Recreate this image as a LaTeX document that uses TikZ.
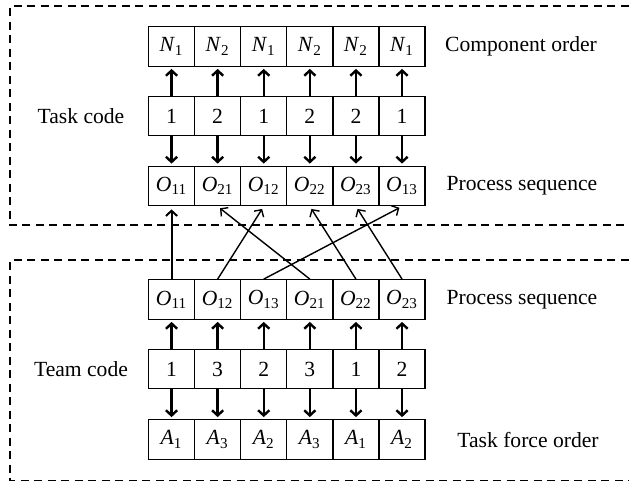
\documentclass[tikz,border=0pt]{standalone}
\usepackage{fontspec}
\setmainfont{Liberation Serif}
\usepackage{tikz}
\usetikzlibrary{arrows.meta}
\newcommand{\sym}[2]{\textit{#1}\textsubscript{#2}}
\def\cellw{46.1}

\begin{document}
\begin{tikzpicture}[x=0.5pt,y=-0.5pt,>={Straight Barb[length=2.6pt,width=5.6pt]},font=\fontsize{10.8}{13}\selectfont]
    \tikzstyle{cell}=[draw,line width=0.65pt,minimum width=23.05pt,minimum height=19.75pt,inner sep=0pt]
    \tikzstyle{link}=[->,shorten >=1pt,line width=1.2pt]
    \tikzstyle{swap}=[->,shorten >=1.5pt,line width=0.7pt]
    \tikzstyle{frame}=[dash pattern=on 4pt off 2.75pt,line width=0.6pt]
    \tikzstyle{annot}=[anchor=center]

    \useasboundingbox (0,0) rectangle (629,483);

    % Upper block: component order, task code, process sequence
    \foreach \i / \lab in {1/{\sym{N}{1}},2/{\sym{N}{2}},3/{\sym{N}{1}},4/{\sym{N}{2}},5/{\sym{N}{2}},6/{\sym{N}{1}}}
        \node[cell] (N-\i) at (125.45+\cellw*\i,46.5) {\lab};
    \foreach \i / \lab in {1/1,2/2,3/1,4/2,5/2,6/1}
        \node[cell] (T-\i) at (125.45+\cellw*\i,116) {\lab};
    \foreach \i / \lab in {1/{\sym{O}{11}},2/{\sym{O}{21}},3/{\sym{O}{12}},4/{\sym{O}{22}},5/{\sym{O}{23}},6/{\sym{O}{13}}}
        \node[cell] (P-\i) at (125.45+\cellw*\i,186) {\lab};

    % Lower block: process sequence, team code, task force order
    \foreach \i / \lab in {1/{\sym{O}{11}},2/{\sym{O}{12}},3/{\sym{O}{13}},4/{\sym{O}{21}},5/{\sym{O}{22}},6/{\sym{O}{23}}}
        \node[cell] (Q-\i) at (125.45+\cellw*\i,299.5) {\lab};
    \foreach \i / \lab in {1/1,2/3,3/2,4/3,5/1,6/2}
        \node[cell] (C-\i) at (125.45+\cellw*\i,369) {\lab};
    \foreach \i / \lab in {1/{\sym{A}{1}},2/{\sym{A}{3}},3/{\sym{A}{2}},4/{\sym{A}{3}},5/{\sym{A}{1}},6/{\sym{A}{2}}}
        \node[cell] (A-\i) at (125.45+\cellw*\i,439.5) {\lab};

    % Vertical arrows inside each block
    \foreach \i in {1,...,6} {
        \draw[link] (T-\i.north) -- (N-\i.south);
        \draw[link] (T-\i.south) -- (P-\i.north);
        \draw[link] (C-\i.north) -- (Q-\i.south);
        \draw[link] (C-\i.south) -- (A-\i.north);
    }

    % Map the lower sequence onto the upper one
    \draw[swap,line width=1pt] (Q-1.north) -- (P-1.south);
    \foreach \src / \dst in {2/3,3/6,4/2,5/4,6/5}
        \draw[swap] (Q-\src.north) -- (P-\dst.south);

    % Row labels
    \node[annot] (comp) at (521,46.5) {Component order};
    \node[annot] (task) at (81,116) {Task code};
    \node[annot] (proc1) at (522,186) {Process sequence};
    \node[annot] (proc2) at (522,299.5) {Process sequence};
    \node[annot] (team) at (81,369) {Team code};
    \node[annot] (force) at (528,439.5) {Task force order};

    % Dashed frames, open to the right
    \draw[frame] (629,6) -- (10,6) -- (10,225) -- (629,225);
    \draw[frame] (629,260) -- (10,260) -- (10,480.5) -- (629,480.5);
\end{tikzpicture}
\end{document}
